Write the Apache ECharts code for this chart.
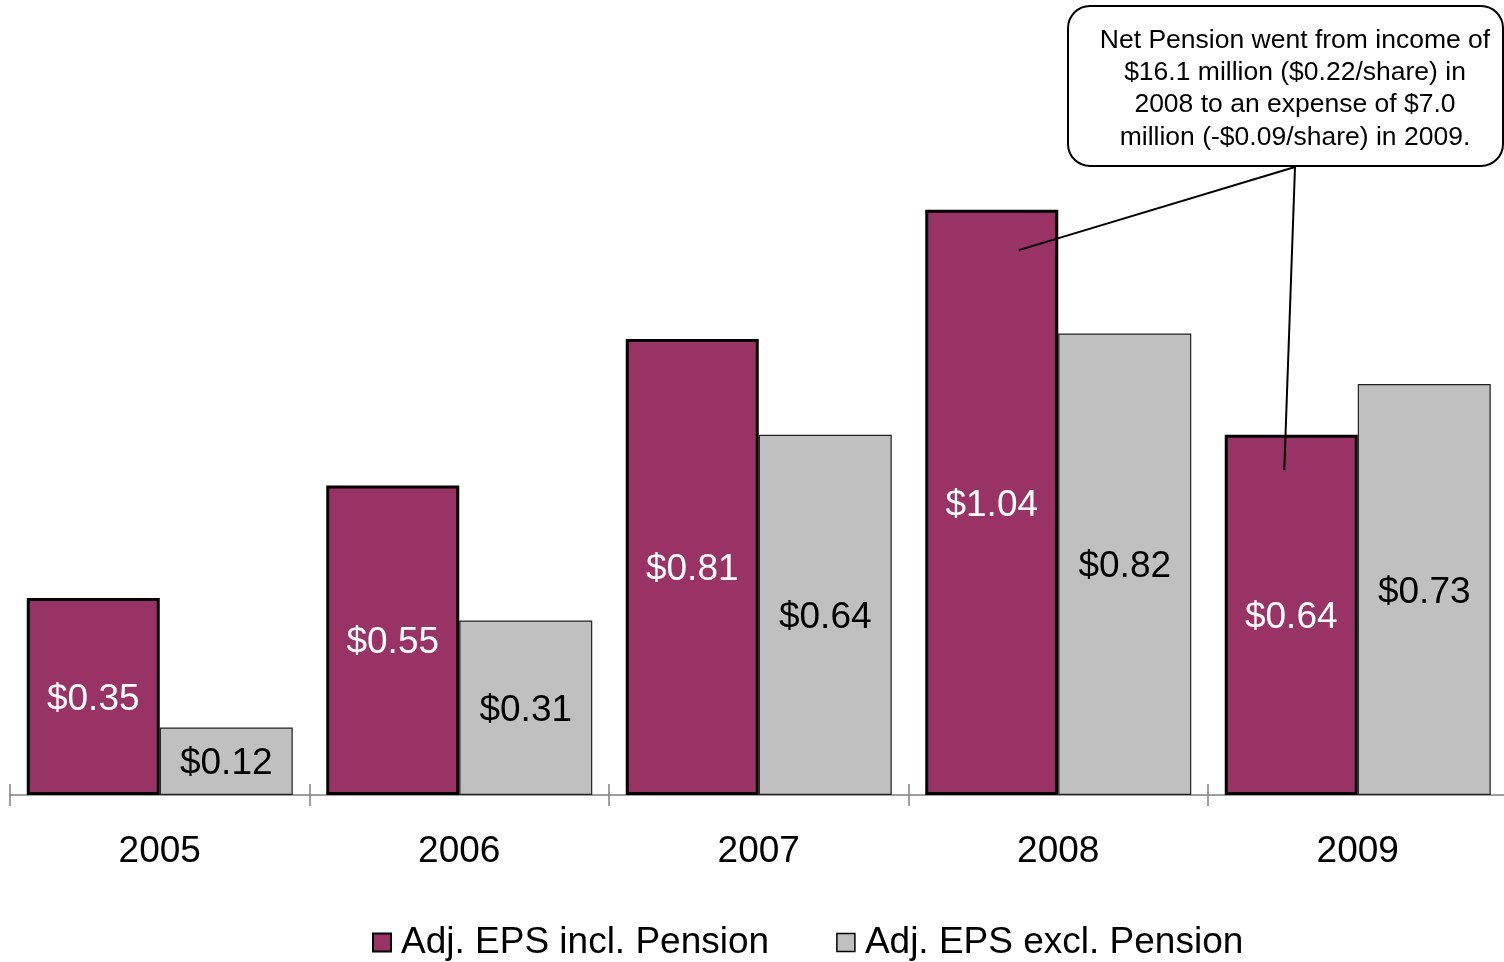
<!DOCTYPE html>
<html>
<head>
<meta charset="utf-8">
<script src="https://cdn.jsdelivr.net/npm/echarts/dist/echarts.min.js"></script>
<style>
  html, body { margin: 0; padding: 0; background: #ffffff; }
  #chart { width: 1504px; height: 962px; }
</style>
</head>
<body>
<div id="chart"></div>
<script>
// Adjusted EPS by year, with and without net pension effect
const years = ['2005', '2006', '2007', '2008', '2009'];
const epsInclPension = [0.35, 0.55, 0.81, 1.04, 0.64];
const epsExclPension = [0.12, 0.31, 0.64, 0.82, 0.73];
const seriesNames = ['Adj. EPS incl. Pension', 'Adj. EPS excl. Pension'];

// Callout text and the points on the bars it refers to
const calloutLines = [
  'Net Pension went from income of',
  '$16.1 million ($0.22/share) in',
  '2008 to an expense of $7.0',
  'million (-$0.09/share) in 2009.'
];
const calloutTargets = [
  { year: '2008', value: 0.968, offset: 27 },
  { year: '2009', value: 0.577, offset: -7 }
];

const FONT = '"Liberation Sans", Arial, Helvetica, sans-serif';
const MAROON = '#993366';
const GREY = '#C0C0C0';
const BAR_W = 133;

const chart = echarts.init(document.getElementById('chart'), null, { renderer: 'canvas' });

const money = p => '$' + p.value.toFixed(2);

chart.setOption({
  animation: false,
  backgroundColor: '#ffffff',
  textStyle: { fontFamily: FONT },
  grid: { left: 10, width: 1497.5, top: 7, bottom: 167, containLabel: false, outerBoundsMode: 'none' },
  legend: {
    left: 372,
    top: 924,
    padding: 0,
    itemWidth: 18,
    itemHeight: 18,
    itemGap: 67,
    icon: 'rect',
    textStyle: { fontFamily: FONT, fontSize: 37, color: '#000', padding: [0, 0, 0, 5] },
    data: [
      { name: seriesNames[0], itemStyle: { color: MAROON, borderColor: '#000', borderWidth: 2 } },
      { name: seriesNames[1], itemStyle: { color: GREY, borderColor: '#000', borderWidth: 1.5 } }
    ]
  },
  xAxis: [
    {
      type: 'category',
      data: years,
      boundaryGap: true,
      axisLine: { show: true, lineStyle: { color: '#808080', width: 1.5 } },
      axisTick: { show: true, length: 11, lineStyle: { color: '#808080', width: 1.5 } },
      axisLabel: { margin: 38, fontFamily: FONT, fontSize: 37, color: '#000' }
    },
    {
      // inner half of the crossing tick marks
      type: 'category',
      data: years,
      position: 'bottom',
      boundaryGap: true,
      axisLine: { show: false },
      axisTick: { show: true, inside: true, length: 11, lineStyle: { color: '#808080', width: 1.5 } },
      axisLabel: { show: false }
    }
  ],
  yAxis: {
    type: 'value',
    min: 0,
    max: 1.4,
    show: false,
    splitLine: { show: false }
  },
  series: [
    {
      name: seriesNames[0],
      type: 'bar',
      data: epsInclPension,
      barWidth: BAR_W,
      barGap: '0%',
      itemStyle: { color: MAROON, borderColor: '#000', borderWidth: 3 },
      label: {
        show: true,
        position: 'inside',
        offset: [0, 3],
        formatter: money,
        fontFamily: FONT,
        fontSize: 37,
        color: '#ffffff'
      },
      z: 3
    },
    {
      name: seriesNames[1],
      type: 'bar',
      data: epsExclPension,
      barWidth: BAR_W,
      barGap: '0%',
      itemStyle: { color: GREY, borderColor: '#222', borderWidth: 1.2 },
      label: {
        show: true,
        position: 'inside',
        offset: [0, 3],
        formatter: money,
        fontFamily: FONT,
        fontSize: 37,
        color: '#000000'
      },
      z: 2
    }
  ]
});

// Callout box with leader lines into the 2008 and 2009 bars
const anchor = [1295, 167];
const leaders = calloutTargets.map(t => {
  const p = chart.convertToPixel({ xAxisIndex: 0, yAxisIndex: 0 }, [t.year, t.value]);
  const barCenter = p[0] - BAR_W / 2;
  return {
    type: 'polyline',
    z: 20,
    shape: { points: [anchor, [barCenter + t.offset, p[1]]] },
    style: { stroke: '#000', lineWidth: 2, fill: null }
  };
});

chart.setOption({
  graphic: [
    ...leaders,
    {
      type: 'rect',
      z: 21,
      shape: { x: 1068, y: 6, width: 435, height: 160, r: 22 },
      style: { fill: '#ffffff', stroke: '#000', lineWidth: 2 }
    },
    {
      type: 'text',
      z: 22,
      x: 1295,
      y: 24,
      style: {
        text: calloutLines.join('\n'),
        font: '26.5px ' + FONT,
        fill: '#000',
        align: 'center',
        verticalAlign: 'top',
        lineHeight: 32.4
      }
    }
  ]
});
</script>
</body>
</html>
